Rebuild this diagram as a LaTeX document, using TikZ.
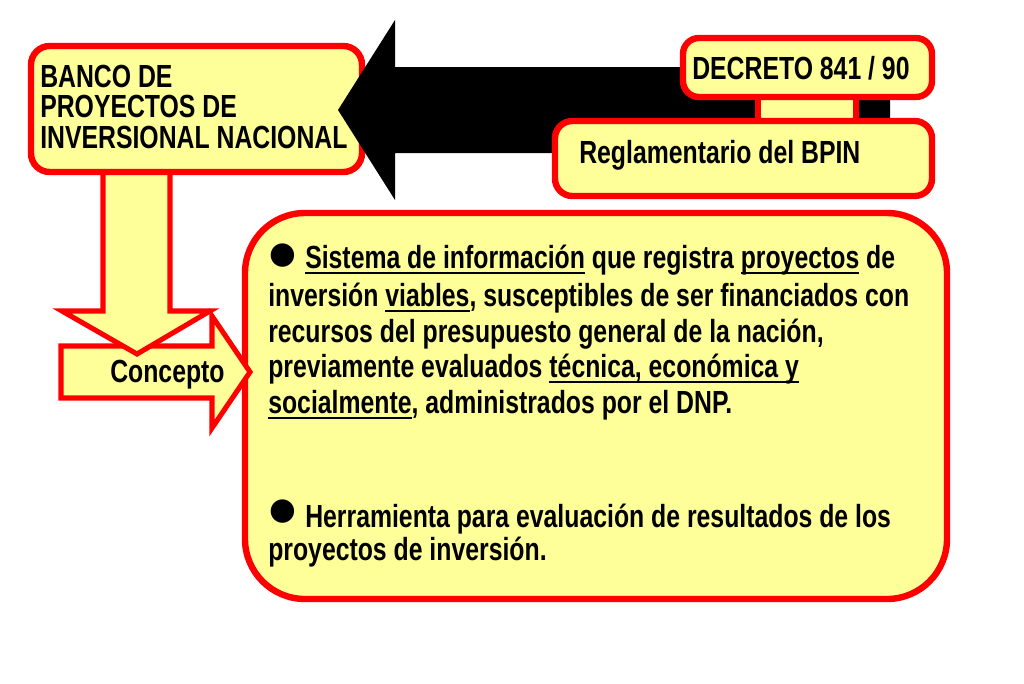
\documentclass[tikz,border=0pt]{standalone}
\usepackage{fontspec}
\newfontfamily\nb{Liberation Sans}[FakeStretch=0.775]
\newfontfamily\dv{DejaVu Sans}
\newcommand\myul[1]{\setbox0\hbox{#1}\rlap{\rule[-4.4pt]{\wd0}{1.5pt}}\box0\relax}
\definecolor{boxyellow}{HTML}{FFFF99}
\definecolor{boxred}{HTML}{FF0000}
\tikzset{
  box/.style={draw=boxred, fill=boxyellow, line width=4.8pt, rounded corners=13pt, inner sep=0pt},
  blockarrow/.style={draw=boxred, fill=boxyellow, line width=3.8pt, line join=miter, miter limit=10},
  txt/.style={anchor=base west, inner sep=0pt, font=\nb\bfseries\fontsize{24pt}{27pt}\selectfont},
  bul/.style={anchor=center, inner sep=0pt, font=\dv\fontsize{23pt}{23pt}\selectfont},
}
\begin{document}
\begin{tikzpicture}[x=0.75pt, y=-0.75pt]
\useasboundingbox (0,0) rectangle (1024,683);
% main box
\node[box, rounded corners=45pt, minimum width=526.5pt, minimum height=289.5pt] (main) at (596,406) {};
% right arrow (Concepto)
\draw[blockarrow] (61,346) -- (212,346) -- (212,316) -- (250,372) -- (212,428) -- (212,398) -- (61,398) -- cycle;
% down arrow
\draw[blockarrow] (103,172) -- (103,311) -- (62,311) -- (137,354) -- (210,311) -- (170,311) -- (170,172) -- cycle;
% BANCO box
\node[box, rounded corners=14pt, minimum width=248.25pt, minimum height=94.5pt] (banco) at (196.5,109) {};
% black arrow
\fill[black] (338,110) -- (395,20) -- (395,67) -- (890,67) -- (890,153) -- (395,153) -- (395,200) -- cycle;
% connector between decreto and reglamentario
\node[box, rounded corners=0pt, minimum width=73.5pt, minimum height=22.5pt] (link) at (807,109.5) {};
\node[box, rounded corners=12pt, minimum width=186.75pt, minimum height=44.25pt] (decreto) at (807.5,67.5) {};
\node[box, rounded corners=13pt, minimum width=282.75pt, minimum height=56.25pt] (regl) at (743.5,158.5) {};
% texts
\node[txt] (b1) at (40,87) {BANCO DE};
\node[txt] (b2) at (40,117.5) {PROYECTOS DE};
\node[txt] (b3) at (40,148) {INVERSIONAL NACIONAL};
\node[txt] (dtxt) at (692,79) {DECRETO 841 / 90};
\node[txt] (rtxt) at (579,163) {Reglamentario del BPIN};
\node[txt] (ctxt) at (110,382) {Concepto};
\node[bul] (bul1) at (283,256) {●};
\node[txt] (m1) at (305,268) {\myul{Sistema de información} que registra \myul{proyectos} de};
\node[txt] (m2) at (268,306) {inversión \myul{viables}, susceptibles de ser financiados con};
\node[txt] (m3) at (268,342) {recursos del presupuesto general de la nación,};
\node[txt] (m4) at (268,377) {previamente evaluados \myul{técnica, económica y}};
\node[txt] (m5) at (268,413) {\myul{socialmente}, administrados por el DNP.};
\node[bul] (bul2) at (283,512) {●};
\node[txt] (m6) at (305,527) {Herramienta para evaluación de resultados de los};
\node[txt] (m7) at (268,560) {proyectos de inversión.};
\end{tikzpicture}
\end{document}
